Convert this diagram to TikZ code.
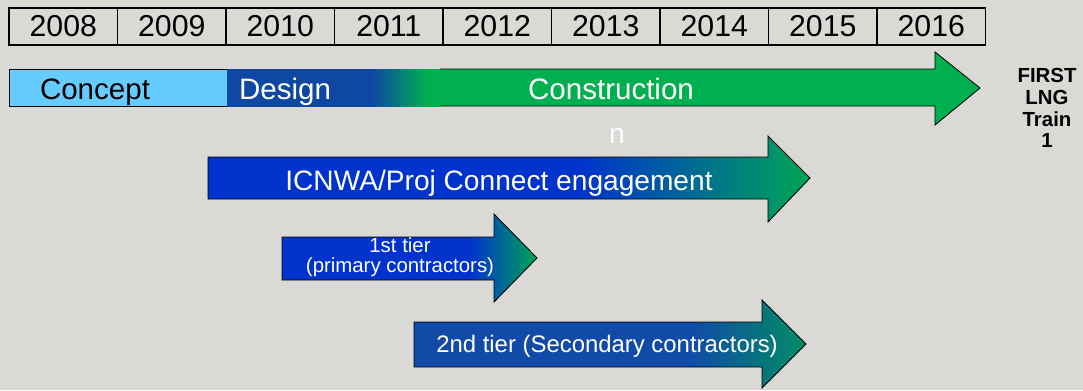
\documentclass[tikz,border=0pt]{standalone}
\usepackage{fontspec}
\setmainfont{Liberation Sans}
\usetikzlibrary{positioning}

\definecolor{paper}{RGB}{219,217,214}
\definecolor{conceptblue}{RGB}{102,204,255}
\definecolor{designblue}{RGB}{14,72,162}
\definecolor{buildgreen}{RGB}{0,176,80}
\definecolor{engblue}{RGB}{0,51,204}
\definecolor{enggreen}{RGB}{0,165,85}
\definecolor{tierblue}{RGB}{18,74,168}
\definecolor{tiergreen}{RGB}{0,140,100}

\pgfdeclarehorizontalshading{designshade}{100bp}{color(0bp)=(designblue); color(59bp)=(designblue); color(72bp)=(buildgreen); color(100bp)=(buildgreen)}
\pgfdeclarehorizontalshading{engshade}{100bp}{color(0bp)=(engblue); color(56bp)=(engblue); color(75bp)=(enggreen); color(100bp)=(enggreen)}
\pgfdeclarehorizontalshading{firstshade}{100bp}{color(0bp)=(engblue); color(62bp)=(engblue); color(75bp)=(enggreen); color(100bp)=(enggreen)}
\pgfdeclarehorizontalshading{secondshade}{100bp}{color(0bp)=(tierblue); color(60bp)=(tierblue); color(75bp)=(tiergreen); color(100bp)=(tiergreen)}

\begin{document}
\begin{tikzpicture}[x=0.025cm,y=-0.025cm,
    yearbox/.style={draw=black, line width=0.9pt, minimum width=2.7125cm, minimum height=0.925cm,
                    inner sep=0pt, outer sep=0pt, anchor=north west, font=\fontsize{21.5}{24}\selectfont},
    phase/.style={anchor=base, font=\fontsize{21}{24}\selectfont},
    bar/.style={draw=black, line width=0.6pt},
    label/.style={text=white, inner sep=0pt}]

    \fill[paper] (0,0) rectangle (1083,390);
    \useasboundingbox (0,0) rectangle (1083,390);

    % years
    \foreach \yr [count=\i from 0] in {2008,...,2016}
        \node[yearbox] (y\yr) at (9+108.5*\i,8) {\yr};

    % phase bar
    \draw[bar, fill=conceptblue] (9,69) rectangle (227,106);
    \shade[shading=designshade] (227,69) rectangle (440,106);
    \draw[bar, fill=buildgreen] (440,69) -- (935,69) -- (935,52) -- (980,88) -- (935,125) -- (935,106) -- (440,106);
    \node[phase] (concept) at (95,99) {Concept};
    \node[phase, text=white] (design) at (285,99) {Design};
    \node[phase, text=white] (build) at (611,99) {Construction};
    \node[label, anchor=base, font=\fontsize{20}{22}\selectfont] (stray) at (617,143) {n};

    \node[align=center, font=\bfseries\fontsize{14.5}{15.5}\selectfont] (train) at (1047,108) {FIRST\\LNG\\Train\\1};

    % engagement arrows
    \shadedraw[shading=engshade, line width=0.6pt] (208,157) -- (768,157) -- (768,136) -- (810,178)
        -- (768,222) -- (768,199) -- (208,199) -- cycle;
    \node[label, anchor=base, font=\fontsize{20}{22}\selectfont] (icnwa) at (499,190) {ICNWA/Proj Connect engagement};

    \shadedraw[shading=firstshade, line width=0.6pt] (282,237) -- (494,237) -- (494,214) -- (537,258)
        -- (494,302) -- (494,280) -- (282,280) -- cycle;
    \node[label, align=center, font=\fontsize{14.5}{14}\selectfont] (tier1) at (400,257) {1st tier\\(primary contractors)};

    \shadedraw[shading=secondshade, line width=0.6pt] (414,322) -- (762,322) -- (762,300) -- (806,344)
        -- (762,388) -- (762,367) -- (414,367) -- cycle;
    \node[label, anchor=base, font=\fontsize{17}{20}\selectfont] (tier2) at (607,352) {2nd tier (Secondary contractors)};
\end{tikzpicture}
\end{document}
